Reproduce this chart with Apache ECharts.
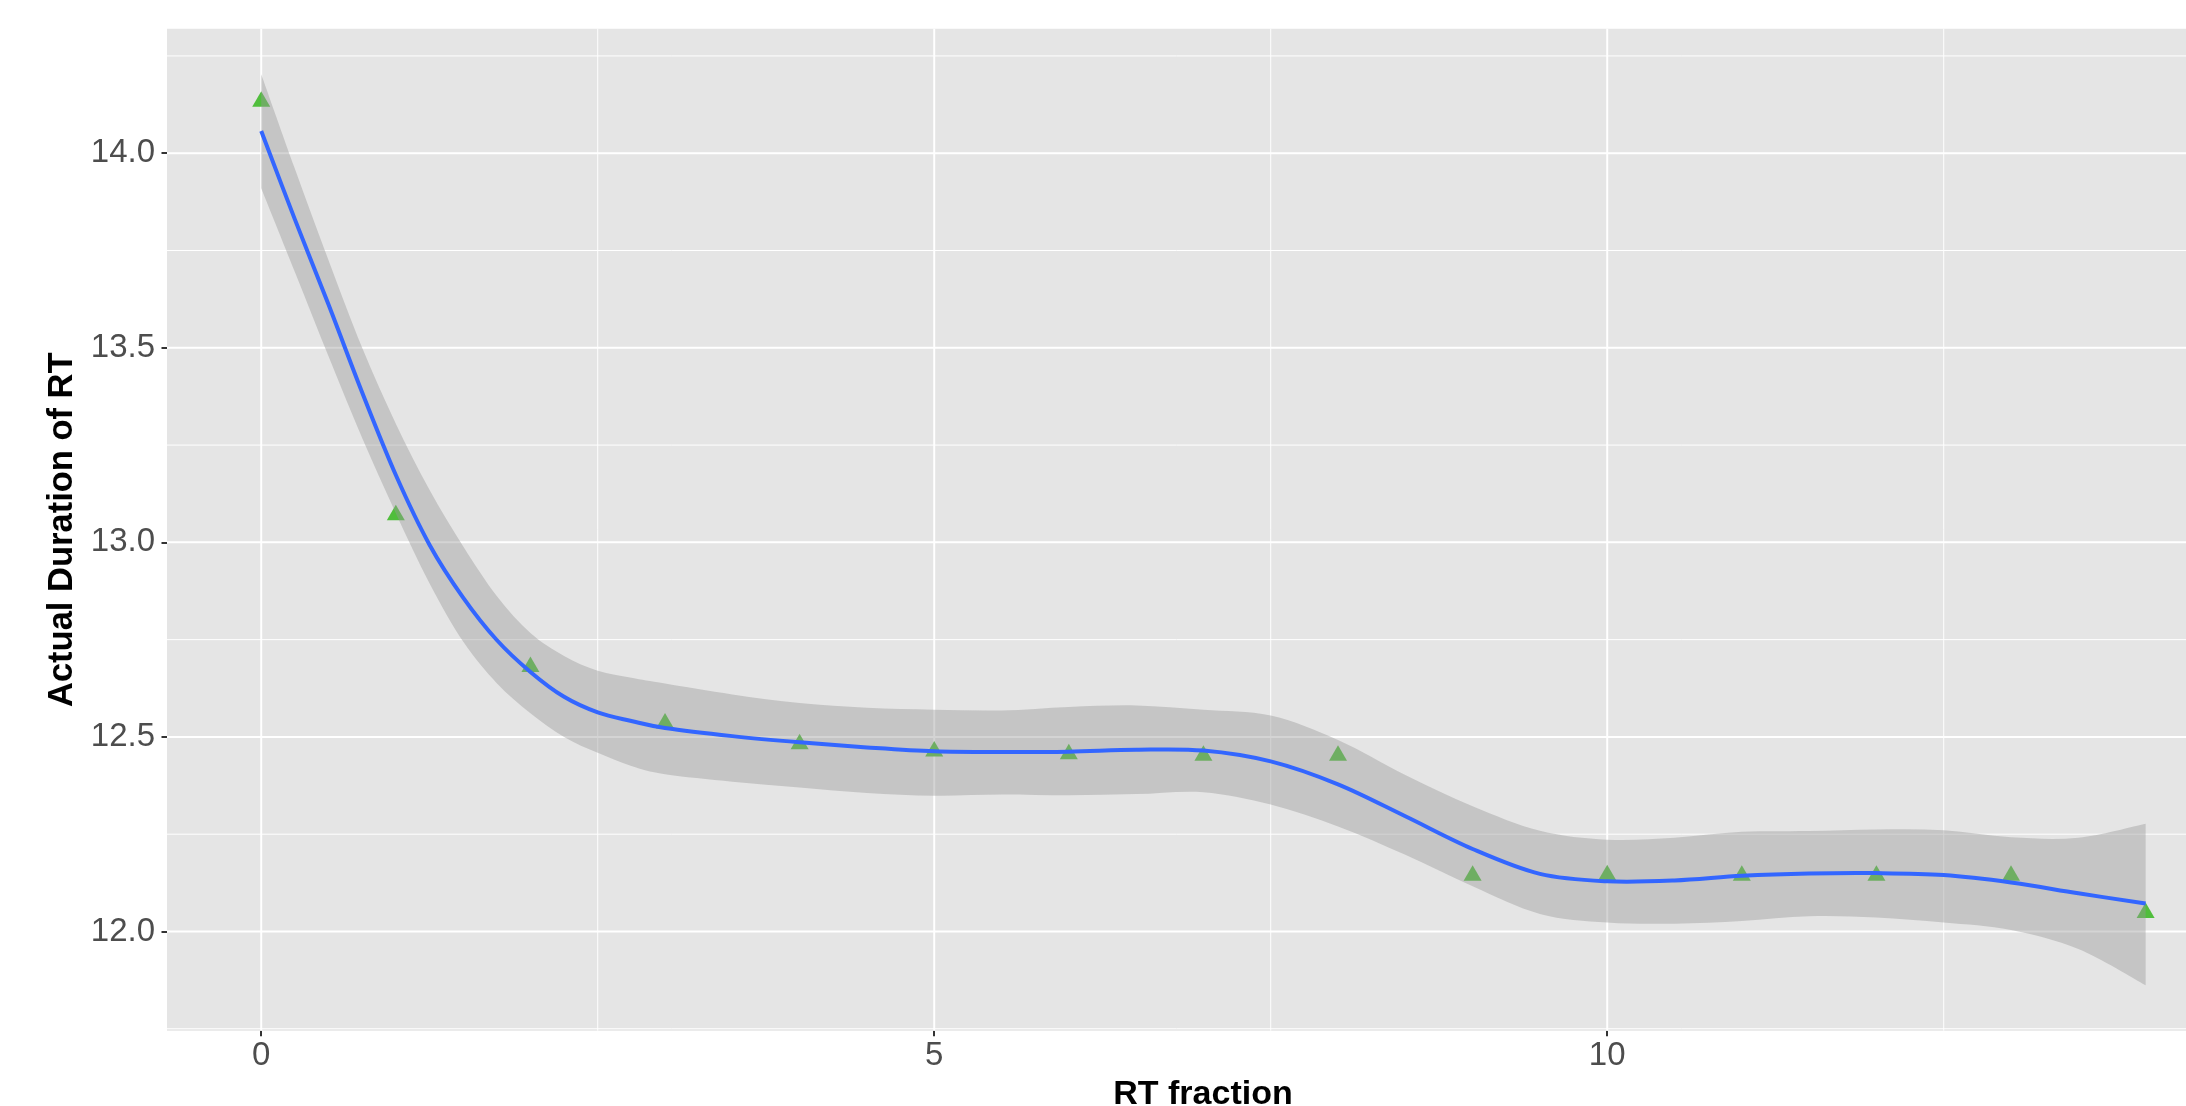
<!DOCTYPE html>
<html>
<head>
<meta charset="utf-8">
<script src="https://cdn.jsdelivr.net/npm/echarts@6/dist/echarts.min.js"></script>
<style>
html,body{margin:0;padding:0;background:#fff;}
#chart{width:2186px;height:1106px;}
</style>
</head>
<body>
<div id="chart"></div>
<script>
// Observed points
const xValues = [0, 1, 2, 3, 4, 5, 6, 7, 8, 9, 10, 11, 12, 13, 14];
const yValues = [14.133, 13.070, 12.680, 12.535, 12.482, 12.463, 12.456, 12.452, 12.452, 12.144, 12.145, 12.144, 12.144, 12.144, 12.048];

// Loess smooth: fit and confidence band
const smoothX = [0, 0.25, 0.5, 0.75, 1, 1.25, 1.5, 1.75, 2, 2.25, 2.5, 2.75, 3,
  3.5, 4, 4.5, 5, 5.5, 6, 6.5, 7, 7.5, 8, 8.5, 9, 9.5, 10, 10.5, 11, 11.5, 12, 12.5, 13, 13.5, 14];
const smoothFit = [14.057, 13.83, 13.611, 13.385, 13.173, 12.994, 12.858, 12.749, 12.667, 12.603, 12.563, 12.541, 12.523,
  12.502, 12.486, 12.473, 12.463, 12.461, 12.462, 12.467, 12.465, 12.437, 12.378, 12.296, 12.212, 12.148, 12.129, 12.131, 12.143, 12.149, 12.150, 12.145, 12.126, 12.098, 12.072];
const smoothUpper = [14.203, 13.96, 13.725, 13.50, 13.305, 13.135, 12.99, 12.862, 12.767, 12.708, 12.670, 12.652, 12.637,
  12.609, 12.587, 12.575, 12.570, 12.568, 12.577, 12.581, 12.570, 12.555, 12.492, 12.402, 12.322, 12.259, 12.236, 12.241, 12.256, 12.258, 12.262, 12.260, 12.242, 12.241, 12.277];
const smoothLower = [13.910, 13.695, 13.478, 13.268, 13.075, 12.895, 12.745, 12.638, 12.561, 12.50, 12.459, 12.425, 12.404,
  12.385, 12.37, 12.356, 12.349, 12.352, 12.350, 12.353, 12.358, 12.326, 12.27, 12.197, 12.116, 12.045, 12.023, 12.02, 12.027, 12.039, 12.036, 12.023, 12.004, 11.955, 11.862];

// Axis breaks
const xMajorTicks = [0, 5, 10];
const xMinorBreaks = [2.5, 7.5, 12.5];
const yMajorTicks = [12.0, 12.5, 13.0, 13.5, 14.0];
const yMinorBreaks = [11.75, 12.25, 12.75, 13.25, 13.75, 14.25];

const FONT = "'Liberation Sans', Arial, Helvetica, sans-serif";

function crPath(pts, start) {
  let d = (start ? 'M' : 'L') + pts[0][0] + ' ' + pts[0][1];
  for (let i = 0; i < pts.length - 1; i++) {
    const p0 = pts[i - 1] || pts[i];
    const p1 = pts[i];
    const p2 = pts[i + 1];
    const p3 = pts[i + 2] || pts[i + 1];
    const c1x = p1[0] + (p2[0] - p0[0]) / 6, c1y = p1[1] + (p2[1] - p0[1]) / 6;
    const c2x = p2[0] - (p3[0] - p1[0]) / 6, c2y = p2[1] - (p3[1] - p1[1]) / 6;
    d += ' C' + c1x + ' ' + c1y + ' ' + c2x + ' ' + c2y + ' ' + p2[0] + ' ' + p2[1];
  }
  return d;
}

const gridData = [];
xMajorTicks.forEach(v => gridData.push([v, 12, 0, 2]));
xMinorBreaks.forEach(v => gridData.push([v, 12, 0, 1]));
yMajorTicks.forEach(v => gridData.push([0, v, 1, 2]));
yMinorBreaks.forEach(v => gridData.push([0, v, 1, 1]));

const chart = echarts.init(document.getElementById('chart'), null, {renderer: 'canvas'});
chart.setOption({
  animation: false,
  backgroundColor: '#ffffff',
  grid: {
    left: 167, right: 0, top: 28.7, bottom: 75.3,
    show: true, backgroundColor: '#E5E5E5', borderWidth: 0,
    containLabel: false, outerBoundsMode: 'none'
  },
  xAxis: {
    type: 'value', min: -0.7, max: 14.3,
    name: 'RT fraction', nameLocation: 'middle', nameGap: 41,
    nameTextStyle: {fontFamily: FONT, fontSize: 34, fontWeight: 'bold', color: '#000', padding: [0, 0, 0, 53]},
    axisLine: {show: false, onZero: false},
    axisTick: {show: true, customValues: xMajorTicks, length: 5.5, lineStyle: {color: '#333333', width: 2}},
    axisLabel: {customValues: xMajorTicks, margin: 9, fontFamily: FONT, fontSize: 33, color: '#4D4D4D'},
    splitLine: {show: false}
  },
  yAxis: {
    type: 'value', min: 11.745, max: 14.32,
    name: 'Actual Duration of RT', nameLocation: 'middle', nameGap: 78, nameRotate: 90,
    nameTextStyle: {fontFamily: FONT, fontSize: 34.5, fontWeight: 'bold', color: '#000'},
    axisLine: {show: false, onZero: false},
    axisTick: {show: true, customValues: yMajorTicks, length: 5.5, lineStyle: {color: '#333333', width: 2}},
    axisLabel: {customValues: yMajorTicks, margin: 12, fontFamily: FONT, fontSize: 33, color: '#4D4D4D',
      formatter: v => Number(v).toFixed(1)},
    splitLine: {show: false}
  },
  series: [
    {
      type: 'custom', z: 1, silent: true,
      data: gridData,
      renderItem: function (params, api) {
        const cs = params.coordSys;
        const orient = api.value(2);
        const w = api.value(3);
        if (orient === 0) {
          const x = api.coord([api.value(0), api.value(1)])[0];
          return {type: 'line', shape: {x1: x, y1: cs.y, x2: x, y2: cs.y + cs.height},
            style: {stroke: '#FFFFFF', lineWidth: w}};
        } else {
          const y = api.coord([api.value(0), api.value(1)])[1];
          return {type: 'line', shape: {x1: cs.x, y1: y, x2: cs.x + cs.width, y2: y},
            style: {stroke: '#FFFFFF', lineWidth: w}};
        }
      }
    },
    {
      type: 'scatter', z: 2, silent: true,
      data: xValues.map((x, i) => [x, yValues[i]]),
      symbol: 'triangle', symbolSize: [18, 15.5], symbolOffset: [0, -2.5],
      itemStyle: {color: '#50BE3C', opacity: 1}
    },
    {
      type: 'custom', z: 3, silent: true,
      data: [[0, 12]],
      renderItem: function (params, api) {
        const up = smoothX.map((x, i) => api.coord([x, smoothUpper[i]]));
        const lo = smoothX.map((x, i) => api.coord([x, smoothLower[i]])).reverse();
        const d = crPath(up, true) + ' ' + crPath(lo, false) + ' Z';
        return {type: 'path', shape: {pathData: d},
          style: {fill: 'rgba(153,153,153,0.42)', stroke: null}};
      }
    },
    {
      type: 'custom', z: 4, silent: true,
      data: [[0, 12]],
      renderItem: function (params, api) {
        const pts = smoothX.map((x, i) => api.coord([x, smoothFit[i]]));
        return {type: 'path', shape: {pathData: crPath(pts, true)},
          style: {fill: null, stroke: '#3366FF', lineWidth: 4, lineJoin: 'round'}};
      }
    }
  ]
});
</script>
</body>
</html>
